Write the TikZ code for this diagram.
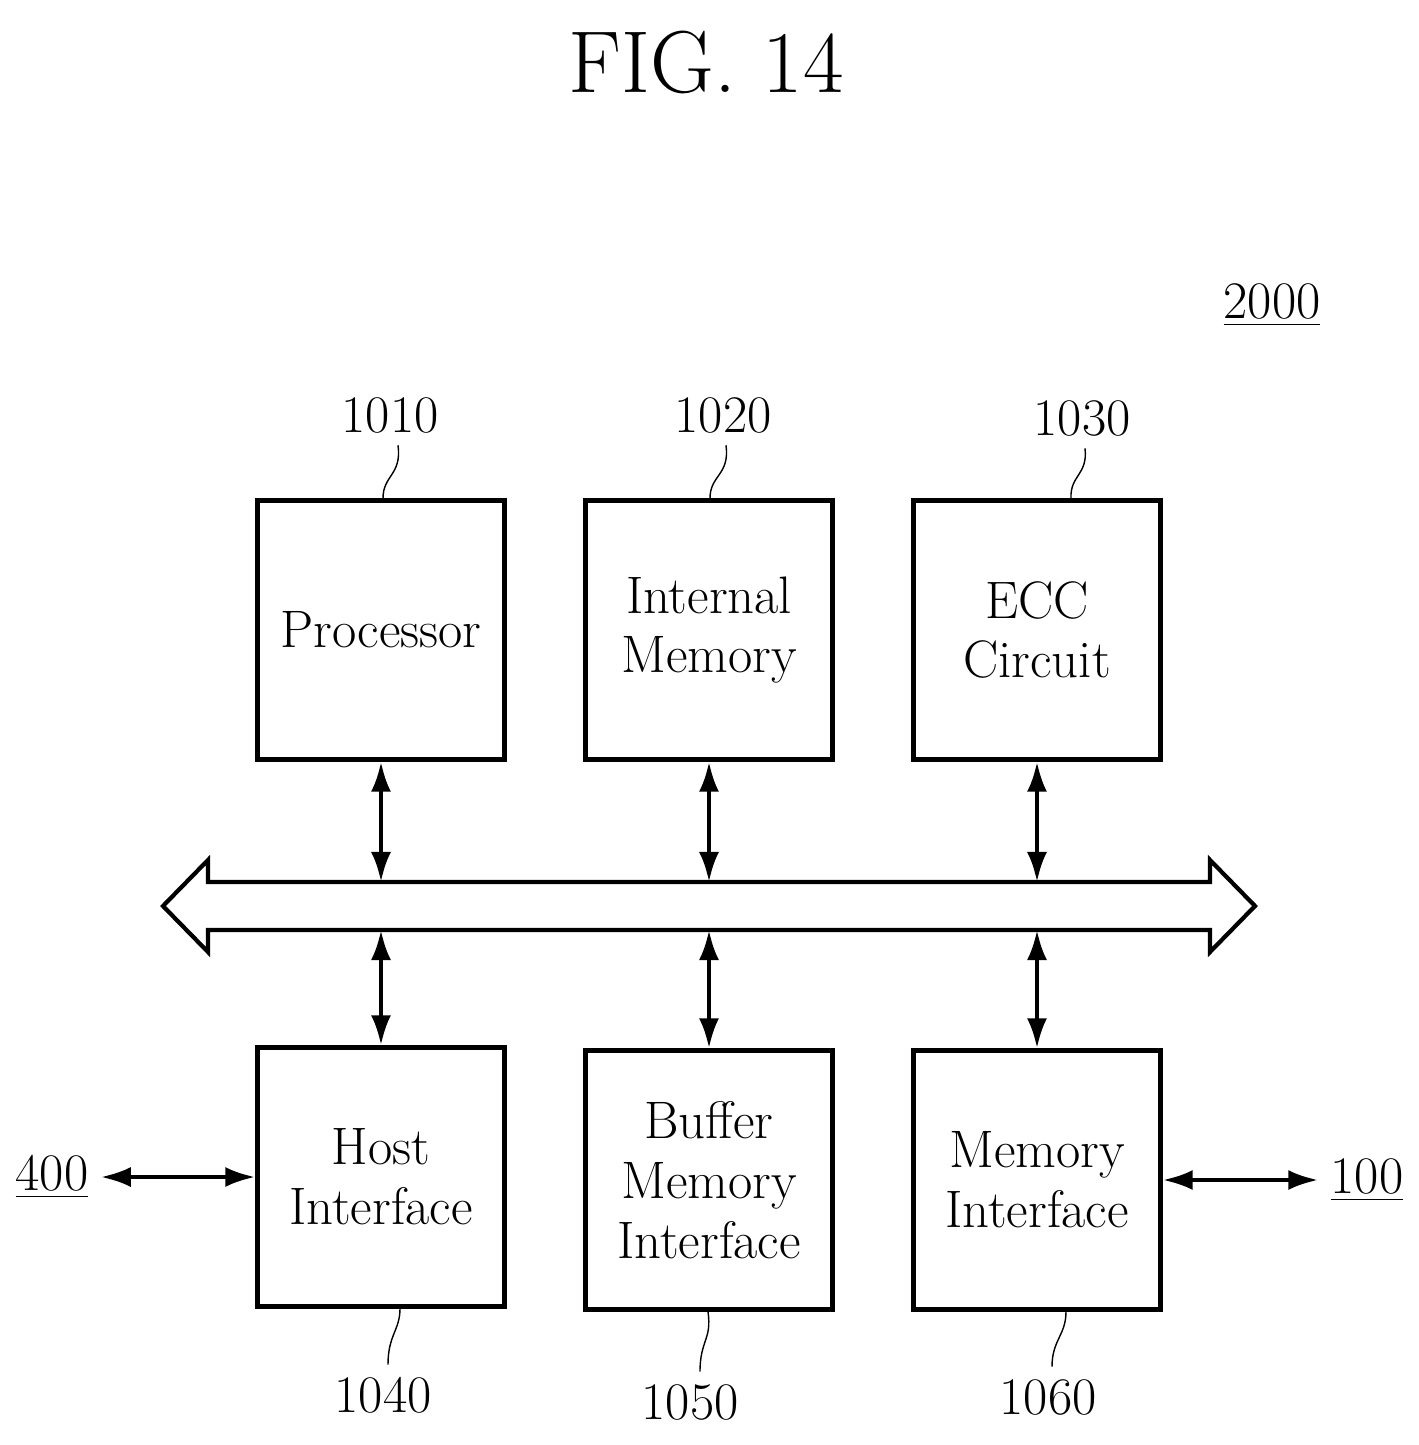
\documentclass[tikz,border=0pt]{standalone}
\usetikzlibrary{arrows.meta}
\tikzset{
  blk/.style={draw, line width=1.2pt, minimum width=2.47cm, minimum height=2.59cm, align=center, font=\fontsize{15}{17}\selectfont},
  lbl/.style={font=\fontsize{15}{17}\selectfont},
  dbl/.style={{Latex[length=3mm,width=2mm]}-{Latex[length=3mm,width=2mm]}, line width=1.2pt}
}
\begin{document}
\begin{tikzpicture}[x=0.01cm, y=-0.01cm]
\useasboundingbox (0,0) rectangle (1419,1445);

\def\xa{381}
\def\xb{709}
\def\xc{1037}
\def\yt{630}
\def\yb{1180}

\node at (706,62) {\fontsize{25}{28}\selectfont FIG. 14};
\node[lbl] (fig) at (1272,305) {\underline{2000}};

% upper row
\node[blk] (proc) at (\xa,\yt) {Processor};
\node[blk] (imem) at (\xb,\yt) {Internal\\Memory};
\node[blk] (ecc) at (\xc,\yt) {ECC\\Circuit};

% lower row
\node[blk] (host) at (\xa,1177) {Host\\Interface};
\node[blk] (bmi) at (\xb,\yb) {Buffer\\Memory\\Interface};
\node[blk] (mif) at (\xc,\yb) {Memory\\Interface};

% bus
\draw[line width=1.2pt] (208,882) -- (1210,882) -- (1210,860) -- (1255,906) -- (1210,952)
  -- (1210,930) -- (208,930) -- (208,952) -- (163,906) -- (208,860) -- cycle;
\coordinate (ta) at (\xa,882); \coordinate (tb) at (\xb,882); \coordinate (tc) at (\xc,882);
\coordinate (ba) at (\xa,930); \coordinate (bb) at (\xb,930); \coordinate (bc) at (\xc,930);

\draw[dbl] (proc) -- (ta);
\draw[dbl] (imem) -- (tb);
\draw[dbl] (ecc) -- (tc);
\draw[dbl] (ba) -- (host);
\draw[dbl] (bb) -- (bmi);
\draw[dbl] (bc) -- (mif);

% external ports
\node[lbl] (ext) at (52,1177) {\underline{400}};
\node[lbl] (nand) at (1367,1180) {\underline{100}};
\draw[dbl] (ext) -- (host);
\draw[dbl] (mif.east |- nand) -- (nand);

% reference numerals
\node[lbl] (n1) at (390,415) {1010};
\node[lbl] (n2) at (723,415) {1020};
\node[lbl] (n3) at (1082,418) {1030};
\node[lbl] (n4) at (383,1395) {1040};
\node[lbl] (n5) at (690,1402) {1050};
\node[lbl] (n6) at (1048,1397) {1060};

\draw (n1.south -| 398,0) .. controls (402,475) and (383,475) .. (proc.north -| 383,0);
\draw (n2.south -| 726,0) .. controls (730,475) and (710,475) .. (imem.north -| 710,0);
\draw (n3.south -| 1085,0) .. controls (1088,475) and (1070,475) .. (ecc.north -| 1071,0);
\draw (host.south -| 400,0) .. controls (400,1330) and (388,1335) .. (n4.north -| 388,0);
\draw (bmi.south -| 708,0) .. controls (712,1340) and (700,1340) .. (n5.north -| 700,0);
\draw (mif.south -| 1066,0) .. controls (1066,1335) and (1052,1340) .. (n6.north -| 1052,0);
\end{tikzpicture}
\end{document}
